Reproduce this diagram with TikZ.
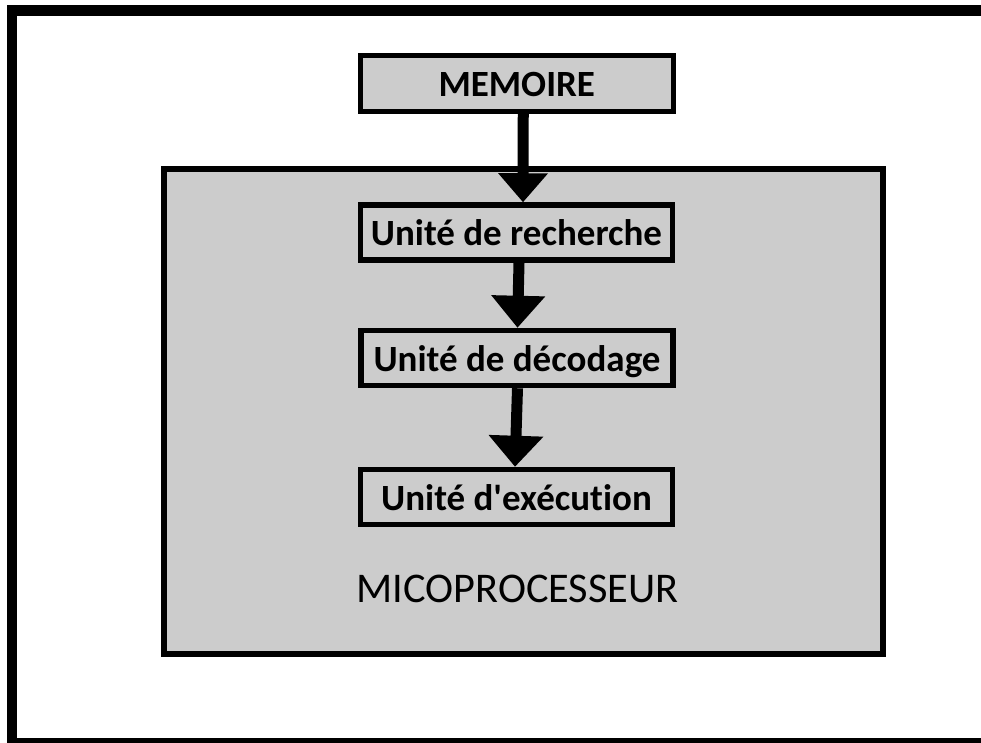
\documentclass[tikz,border=0pt]{standalone}
\usepackage{fontspec}
\setmainfont{Carlito}[Ligatures={NoCommon}]
\usetikzlibrary{arrows.meta}
\definecolor{boxgray}{RGB}{204,204,204}
\begin{document}
\begin{tikzpicture}[x=1pt,y=-1pt,
  unitbox/.style={draw=black, fill=boxgray, line width=5.5pt, minimum width=312pt, minimum height=55pt, inner sep=0pt, font=\bfseries\fontsize{37}{42}\selectfont, text height=26pt, text depth=0pt},
  flow/.style={line width=11pt}]
\useasboundingbox (0,0) rectangle (981,742);
\draw[line width=10.5pt] (12,10.7) rectangle (1005,743.5);
\node[draw=black, fill=boxgray, line width=6pt, minimum width=719pt, minimum height=484.5pt, inner sep=0pt] (mp) at (523.5,411.25) {};
\node[font=\fontsize{42.3}{48}\selectfont, anchor=base, inner sep=0pt] (mplabel) at (517.5,602) {MICOPROCESSEUR};
\node[unitbox, minimum width=313.5pt, minimum height=56pt, line width=5pt] (mem) at (516.75,83.5) {MEMOIRE};
\node[unitbox] (b1) at (516.5,232.5) {Unité de recherche};
\node[unitbox] (b2) at (517,358) {Unité de décodage};
\node[unitbox] (b3) at (516.5,497) {Unité d\textquotesingle exécution};
\draw[flow, -{Triangle[length=29pt,width=48pt]}] ([xshift=6.5pt]mem.south) -- ([xshift=6.5pt]b1.north);
\draw[flow, -{Triangle[length=32pt,width=52pt]}] ([xshift=2.5pt]b1.south) -- ([xshift=0.5pt]b2.north);
\draw[flow, -{Triangle[length=31pt,width=53pt]}] ([xshift=0.5pt]b2.south) -- ([xshift=-1.5pt]b3.north);
\end{tikzpicture}
\end{document}
